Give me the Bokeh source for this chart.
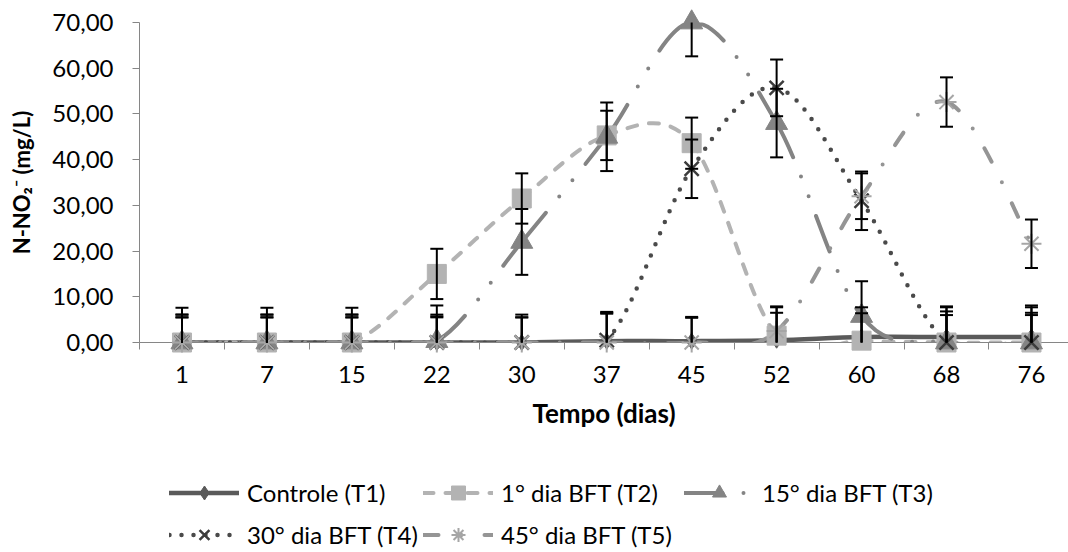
import numpy as np
from bokeh.plotting import figure
from bokeh.layouts import column
from bokeh.models import Range1d, FixedTicker, Legend, LegendItem, ColumnDataSource
from bokeh.embed import file_html
from bokeh.resources import INLINE

# ---------------- data ----------------
categories = ["1", "7", "15", "22", "30", "37", "45", "52", "60", "68", "76"]

t1 = [0.0, 0.0, 0.0, 0.0, 0.0, 0.3, 0.3, 0.5, 1.2, 1.2, 1.2]
t1_err = [5.5, 5.5, 5.5, 5.5, 5.5, 6.0, 5.3, 6.0, 6.5, 6.5, 6.5]

t2 = [0.0, 0.0, 0.0, 15.0, 31.5, 45.3, 43.6, 1.5, 0.4, 0.0, 0.0]
t2_err = [6.1, 6.1, 6.1, 5.5, 5.5, 5.4, 5.6, 6.2, 6.0, 6.0, 6.0]

t3 = [0.0, 0.0, 0.0, 0.3, 22.0, 45.0, 70.0, 48.0, 5.8, 0.0, 0.0]
t3_err = [7.6, 7.6, 7.6, 7.8, 7.2, 7.5, 7.4, 7.5, 7.6, 7.9, 8.1]

t4 = [0.0, 0.0, 0.0, 0.0, 0.0, 0.5, 38.0, 55.7, 31.0, 0.0, 0.0]
t4_err = [6.1, 6.1, 6.1, 6.1, 6.1, 6.2, 6.4, 6.2, 6.4, 6.8, 6.5]

t5 = [0.0, 0.0, 0.0, 0.0, 0.0, 0.0, 0.0, 2.5, 32.0, 52.6, 21.6]
t5_err = [5.5, 5.5, 5.5, 5.7, 5.5, 6.5, 5.4, 5.4, 5.0, 5.4, 5.3]

series_names = ["Controle (T1)", "1° dia BFT (T2)", "15° dia BFT (T3)",
                "30° dia BFT (T4)", "45° dia BFT (T5)"]

y_ticks = [0, 10, 20, 30, 40, 50, 60, 70]
y_max = 70

FONT = "Lato"

styles = [
    dict(color="#5a5a5a", width=4.5, dash="solid", marker="diamond", msize=16,
         fill="#5a5a5a", mline="#5a5a5a", mlw=1),
    dict(color="#b3b3b3", width=4, dash="10 12", marker="square", msize=19,
         fill="#b3b3b3", mline="#b3b3b3", mlw=1),
    dict(color="#848484", width=4, dash="38 21 0 21 0 21", marker="triangle", msize=22,
         fill="#848484", mline="#848484", mlw=1),
    dict(color="#4a4a4a", width=4.5, dash="0 12", marker="x", msize=20,
         fill=None, mline="#3c3c3c", mlw=2.5),
    dict(color="#959595", width=4, dash="15 23 0 23", marker="asterisk", msize=20,
         fill=None, mline="#a6a6a6", mlw=2),
]

values = [t1, t2, t3, t4, t5]
errors = [t1_err, t2_err, t3_err, t4_err, t5_err]

xs = np.arange(len(categories), dtype=float)


def bezier_source(xv, yv):
    xv = np.asarray(xv, float)
    yv = np.asarray(yv, float)
    n = len(xv)
    px = np.concatenate([[xv[0]], xv, [xv[-1]]])
    py = np.concatenate([[yv[0]], yv, [yv[-1]]])
    i = np.arange(n - 1)
    return ColumnDataSource(dict(
        x0=px[i + 1], y0=py[i + 1], x1=px[i + 2], y1=py[i + 2],
        cx0=px[i + 1] + (px[i + 2] - px[i]) / 6.0,
        cy0=py[i + 1] + (py[i + 2] - py[i]) / 6.0,
        cx1=px[i + 2] - (px[i + 3] - px[i + 1]) / 6.0,
        cy1=py[i + 2] - (py[i + 3] - py[i + 1]) / 6.0,
    ))


p = figure(width=1068, height=452,
           x_range=Range1d(-0.5, 10.436), y_range=Range1d(0, y_max),
           output_backend="svg", toolbar_location=None,
           min_border_left=139, min_border_right=0,
           min_border_top=22, min_border_bottom=110)
p.outline_line_color = None
p.grid.visible = False
p.background_fill_color = "white"
p.border_fill_color = "white"

for vals, st in zip(values, styles):
    p.bezier(x0="x0", y0="y0", x1="x1", y1="y1",
             cx0="cx0", cy0="cy0", cx1="cx1", cy1="cy1",
             source=bezier_source(xs, vals),
             line_color=st["color"], line_width=st["width"],
             line_dash=st["dash"], line_cap="round", line_join="round")

for vals, st in zip(values, styles):
    p.scatter(x=xs, y=vals, marker=st["marker"], size=st["msize"],
              fill_color=st["fill"], line_color=st["mline"],
              line_width=st["mlw"], level="overlay")

# error bars (clipped to the axis limits like the original)
for vals, errs in zip(values, errors):
    v = np.asarray(vals, float)
    e = np.asarray(errs, float)
    lo = np.maximum(v - e, 0)
    hi = np.minimum(v + e, y_max)
    p.segment(x0=xs, y0=lo, x1=xs, y1=hi, line_color="black",
              line_width=2, level="overlay")
    top = (v + e) <= y_max
    bot = (v - e) >= 0
    p.scatter(x=xs[top], y=hi[top], marker="dash", size=13,
              line_color="black", line_width=2, level="overlay")
    p.scatter(x=xs[bot], y=lo[bot], marker="dash", size=13,
              line_color="black", line_width=2, level="overlay")

# ---------------- axes ----------------
xa = p.xaxis[0]
xa.ticker = FixedTicker(ticks=list(range(len(categories))),
                        minor_ticks=[k - 0.5 for k in range(len(categories) + 1)])
xa.major_label_overrides = {k: c for k, c in enumerate(categories)}
xa.major_tick_out = 0
xa.major_tick_in = 0
xa.minor_tick_out = 7
xa.minor_tick_in = 0
xa.minor_tick_line_color = "#868686"
xa.axis_line_color = "#868686"
xa.major_label_text_font = FONT
xa.major_label_text_font_size = "24px"
xa.major_label_text_color = "black"
xa.major_label_standoff = 16
xa.axis_label = "Tempo (dias)"
xa.axis_label_text_font = FONT
xa.axis_label_text_font_style = "bold"
xa.axis_label_text_font_size = "26px"
xa.axis_label_text_color = "black"
xa.axis_label_standoff = 11

ya = p.yaxis[0]
ya.ticker = FixedTicker(ticks=y_ticks)
ya.major_label_overrides = {t: f"{t:.2f}".replace(".", ",") for t in y_ticks}
ya.bounds = (0, y_max)
ya.major_tick_out = 7
ya.major_tick_in = 0
ya.minor_tick_out = 0
ya.minor_tick_in = 0
ya.major_tick_line_color = "#868686"
ya.axis_line_color = "#868686"
ya.major_label_text_font = FONT
ya.major_label_text_font_size = "24px"
ya.major_label_text_color = "black"
ya.major_label_standoff = 19
ya.axis_label = "N-NO\u2082\u207b (mg/L)"
ya.axis_label_text_font = FONT
ya.axis_label_text_font_style = "bold"
ya.axis_label_text_font_size = "22px"
ya.axis_label_text_color = "black"
ya.axis_label_standoff = 14

# ---------------- legend strip (Excel-like 3 + 2 layout) ----------------
# frame of this strip is aligned with the chart frame (starts 139 px from the left)
lf = figure(width=1068, height=100, x_range=Range1d(1, 2), y_range=Range1d(1, 2),
            output_backend="svg", toolbar_location=None,
            x_axis_location=None, y_axis_location=None, min_border=0)
lf.outline_line_color = None
lf.grid.visible = False

legend_slots = [(30, 42), (284, 42), (545, 42), (30, 0), (284, 0)]
for name, st, vals, loc in zip(series_names, styles, values, legend_slots):
    # legend keys: same styles, data kept outside of this strip's visible range
    lr = lf.line(x=xs, y=vals, line_color=st["color"], line_width=st["width"],
                 line_dash=st["dash"], line_cap="round")
    mr = lf.scatter(x=xs, y=vals, marker=st["marker"], fill_color=st["fill"],
                    line_color=st["mline"], line_width=st["mlw"])
    lg = Legend(items=[LegendItem(label=name, renderers=[lr, mr])],
                location=loc, orientation="horizontal",
                glyph_width=70, glyph_height=35, label_standoff=8,
                padding=0, margin=0, spacing=0,
                border_line_color=None, background_fill_alpha=0,
                label_text_font=FONT, label_text_font_size="24px",
                label_text_color="black")
    lf.add_layout(lg)

layout = column(p, lf, spacing=0)
open("out.html", "w").write(file_html(layout, INLINE))
